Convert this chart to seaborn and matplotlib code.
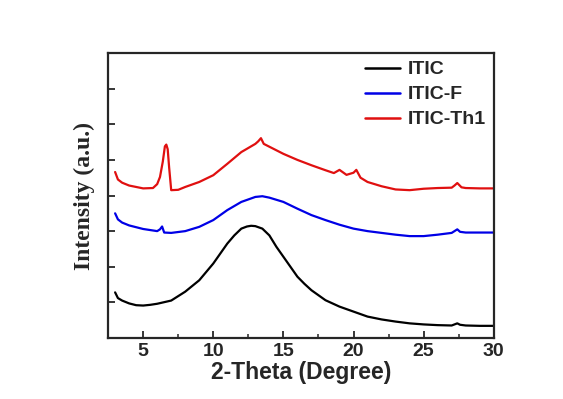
import numpy as np
import pandas as pd
import matplotlib.pyplot as plt
import seaborn as sns

# ITIC (black)
itic_x = [3.0, 3.2, 3.5, 4.0, 4.5, 5.0, 5.5, 6.0, 7.0, 8.0, 9.0, 10.0, 11.0, 11.5, 12.0, 12.4, 12.7,
          13.0, 13.5, 14.0, 14.5, 15.0, 15.5, 16.0, 16.5, 17.0, 18.0, 19.0, 20.0, 21.0, 22.0, 23.0,
          24.0, 25.0, 26.0, 27.0, 27.2, 27.4, 27.6, 28.0, 29.0, 30.0]
itic_y = [1.28, 1.12, 1.05, 0.97, 0.92, 0.91, 0.93, 0.96, 1.05, 1.30, 1.62, 2.09, 2.65, 2.88, 3.07, 3.13, 3.15,
          3.14, 3.07, 2.88, 2.56, 2.28, 2.00, 1.72, 1.52, 1.34, 1.06, 0.88, 0.74, 0.60, 0.52, 0.46,
          0.41, 0.38, 0.36, 0.35, 0.38, 0.41, 0.37, 0.35, 0.34, 0.34]

# ITIC-F (blue)
iticf_x = [3.0, 3.2, 3.5, 4.0, 5.0, 6.0, 6.2, 6.35, 6.5, 7.0, 8.0, 9.0, 10.0, 11.0, 12.0, 13.0, 13.5,
           14.0, 15.0, 16.0, 17.0, 18.0, 19.0, 20.0, 21.0, 22.0, 23.0, 24.0, 25.0, 26.0, 27.0,
           27.2, 27.4, 27.6, 28.0, 29.0, 30.0]
iticf_y = [3.50, 3.33, 3.24, 3.16, 3.06, 3.00, 3.05, 3.13, 2.96, 2.95, 3.00, 3.12, 3.31, 3.59, 3.82, 3.96, 3.98,
           3.94, 3.82, 3.63, 3.45, 3.31, 3.18, 3.07, 3.00, 2.95, 2.90, 2.86, 2.86, 2.90, 2.95,
           3.00, 3.05, 2.98, 2.96, 2.96, 2.96]

# ITIC-Th1 (red)
itict_x = [3.0, 3.2, 3.5, 4.0, 5.0, 5.7, 6.0, 6.2, 6.4, 6.55, 6.65, 6.75, 6.85, 7.0, 7.5, 8.0, 9.0,
           10.0, 11.0, 12.0, 13.0, 13.2, 13.4, 13.6, 14.0, 15.0, 16.0, 17.0, 18.0, 18.6, 19.0, 19.5,
           20.0, 20.2, 20.5, 21.0, 22.0, 23.0, 24.0, 25.0, 26.0, 27.0, 27.2, 27.4, 27.7, 28.0, 29.0, 30.0]
itict_y = [4.66, 4.45, 4.36, 4.28, 4.20, 4.21, 4.32, 4.52, 4.95, 5.38, 5.43, 5.30, 4.80, 4.15, 4.16, 4.24, 4.38,
           4.57, 4.89, 5.22, 5.45, 5.52, 5.61, 5.45, 5.37, 5.17, 5.00, 4.85, 4.71, 4.63, 4.72, 4.58,
           4.64, 4.72, 4.50, 4.38, 4.26, 4.17, 4.15, 4.19, 4.21, 4.22, 4.28, 4.35, 4.23, 4.21, 4.20, 4.20]

labels = ["ITIC", "ITIC-F", "ITIC-Th1"]
colors = ["black", "#0000e6", "#e01010"]


def main():
    frames = []
    for name, xs, ys in zip(labels, [itic_x, iticf_x, itict_x], [itic_y, iticf_y, itict_y]):
        frames.append(pd.DataFrame({"x": xs, "y": ys, "sample": name}))
    df = pd.concat(frames, ignore_index=True)

    sns.set_style("ticks")
    plt.rcParams["font.family"] = ["Liberation Sans", "DejaVu Sans"]

    fig = plt.figure(figsize=(5.63, 3.99), dpi=100)
    ax = fig.add_axes([0.192, 0.153, 0.685, 0.714])

    sns.lineplot(data=df, x="x", y="y", hue="sample", palette=colors,
                 hue_order=labels, linewidth=1.6, sort=False, estimator=None, ax=ax)

    ax.set_xlim(3, 30)
    ax.set_ylim(0, 8)
    ax.set_xticks([5, 10, 15, 20, 25, 30])
    ax.set_xticks(np.arange(2.5, 30, 2.5), minor=True)
    ax.set_yticks(range(1, 8))
    ax.set_yticklabels([])
    ax.tick_params(direction="in", length=5, width=1.3, labelsize=14)
    ax.tick_params(which="minor", direction="in", length=3, width=1.1)
    for lab in ax.get_xticklabels():
        lab.set_fontweight("bold")
    for sp in ax.spines.values():
        sp.set_linewidth(1.6)

    ax.set_xlabel("2-Theta (Degree)", fontsize=16.5, fontweight="bold", labelpad=1)
    ax.set_ylabel("Intensity (a.u.)", fontsize=17, fontweight="bold",
                  family=["Liberation Serif", "DejaVu Serif"], labelpad=6)

    leg = ax.legend(loc="upper right", frameon=False, fontsize=14, handlelength=1.8,
                    handletextpad=0.4, labelspacing=0.38, borderaxespad=0.0)
    for t in leg.get_texts():
        t.set_fontweight("bold")
    for ln in leg.get_lines():
        ln.set_linewidth(1.8)

    fig.savefig("out.png", dpi=100)
    plt.close(fig)


if __name__ == '__main__':
    main()
